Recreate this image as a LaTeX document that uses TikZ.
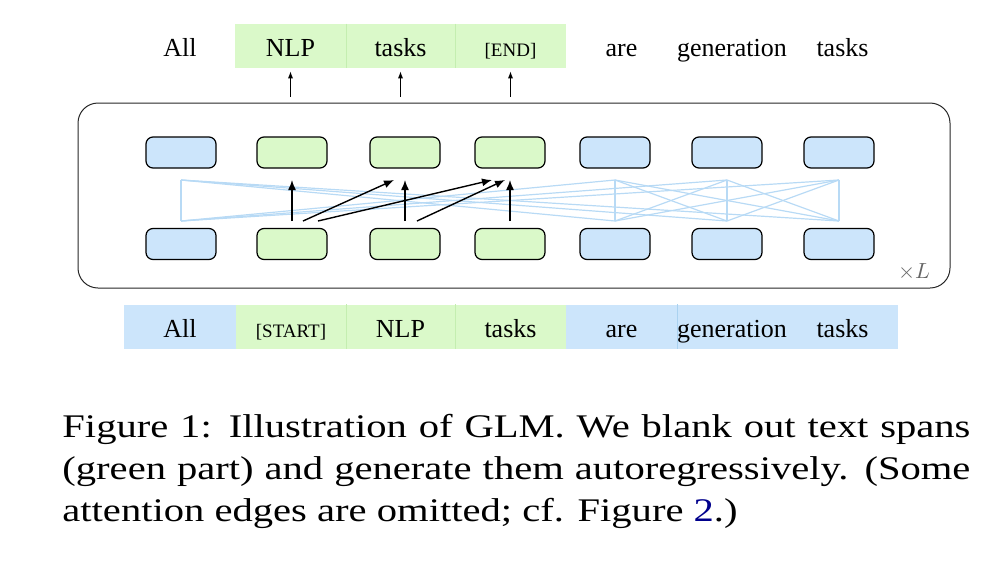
\documentclass[tikz,border=0pt]{standalone}
\usepackage{fontspec}
\setmainfont{Liberation Serif}
\newfontfamily\capfont[FakeStretch=1.23]{Liberation Serif}
\usetikzlibrary{arrows.meta}
\definecolor{tokblue}{RGB}{204,229,251}
\definecolor{tokgreen}{RGB}{218,249,201}
\definecolor{divgreen}{RGB}{196,238,176}
\definecolor{divblue}{RGB}{170,210,240}
\definecolor{attnblue}{RGB}{184,218,245}
\definecolor{linknavy}{RGB}{0,0,140}
\tikzset{
  cell/.style={minimum height=22pt, inner sep=0pt, text height=11.5pt, text depth=1pt, font=\fontsize{13}{15}\selectfont},
  small/.style={font=\fontsize{9.5}{11}\selectfont},
  blk/.style={draw, rounded corners=3.5pt, line width=0.6pt, minimum width=35pt, minimum height=15.5pt, inner sep=0pt},
  attn/.style={attnblue, line width=0.6pt},
  genarr/.style={-{Latex[length=5pt,width=4pt]}, line width=0.7pt},
  outarr/.style={-{Latex[length=3.5pt,width=2.6pt]}, line width=0.5pt},
  frame/.style={draw=black!85, rounded corners=10pt, line width=0.5pt},
  caption/.style={anchor=base west, inner sep=0pt, font=\capfont\fontsize{16.5}{21}\selectfont}
}
\begin{document}
\begin{tikzpicture}[x=0.5pt,y=-0.5pt]
  \useasboundingbox (0,0) rectangle (987,569);

  \node[frame, minimum width=436pt, minimum height=92.5pt] (frame) at (514,195.5) {};

  \node[cell, minimum width=56pt] (o1) at (180,46) {All};
  \node[cell, fill=tokgreen, minimum width=55.5pt] (o2) at (290.5,46) {NLP};
  \node[cell, fill=tokgreen, minimum width=54.5pt] (o3) at (400.5,46) {tasks};
  \node[cell, fill=tokgreen, minimum width=55.5pt, small] (o4) at (510.5,46) {[END]};
  \node[cell, minimum width=55.5pt] (o5) at (621.5,46) {are};
  \node[cell, minimum width=55pt] (o6) at (732,46) {generation};
  \node[cell, minimum width=55.5pt] (o7) at (842.5,46) {tasks};

  \node[cell, fill=tokblue, minimum width=56pt] (i1) at (180,326.5) {All};
  \node[cell, fill=tokgreen, minimum width=55pt, small] (i2) at (291,326.5) {[START]};
  \node[cell, fill=tokgreen, minimum width=54.5pt] (i3) at (400.5,326.5) {NLP};
  \node[cell, fill=tokgreen, minimum width=55.5pt] (i4) at (510.5,326.5) {tasks};
  \node[cell, fill=tokblue, minimum width=55.5pt] (i5) at (621.5,326.5) {are};
  \node[cell, fill=tokblue, minimum width=55pt] (i6) at (732,326.5) {generation};
  \node[cell, fill=tokblue, minimum width=55.5pt] (i7) at (842.5,326.5) {tasks};

  \foreach \n in {o2,o3,i2,i3}
    \draw[divgreen, line width=0.5pt] (\n.north east) -- (\n.south east);
  \draw[divblue, line width=0.5pt] (i5.north east) -- (i5.south east);

  \foreach \x/\c [count=\i] in {181/tokblue,292/tokgreen,405/tokgreen,510/tokgreen,615/tokblue,727/tokblue,839/tokblue} {
    \node[blk, fill=\c] (t\i) at (\x,152.5) {};
    \node[blk, fill=\c] (b\i) at (\x,244) {};
    \coordinate (u\i) at (\x,180);
    \coordinate (l\i) at (\x,221);
  }

  \foreach \i in {1,5,6,7}
    \foreach \j in {1,5,6,7}
      \draw[attn] (l\i) -- (u\j);

  \draw[genarr] (l2) -- (u2);
  \draw[genarr] (l3) -- (u3);
  \draw[genarr] (l4) -- (u4);
  \draw[genarr] ([xshift=5.5pt]l2) -- ([xshift=-5.5pt]u3);
  \draw[genarr] ([xshift=13pt]l2) -- ([xshift=-9pt]u4);
  \draw[genarr] ([xshift=6pt]l3) -- ([xshift=-2.5pt]u4);

  \foreach \i in {2,3,4}
    \draw[outarr] ([yshift=3pt]frame.north -| o\i) -- ([yshift=-1.5pt]o\i.south);

  \node[text=black!60, font=\fontsize{11}{13}\selectfont] (rep) at (914,272) {$\times L$};

  \node[caption] (cap1) at (62,437) {\makebox[454pt][s]{Figure 1: Illustration of GLM. We blank out text spans}};
  \node[caption] (cap2) at (62,479) {\makebox[454pt][s]{(green part) and generate them autoregressively. (Some}};
  \node[caption] (cap3) at (62,521) {attention edges are omitted; cf. Figure \textcolor{linknavy}{2}.)};
\end{tikzpicture}
\end{document}
